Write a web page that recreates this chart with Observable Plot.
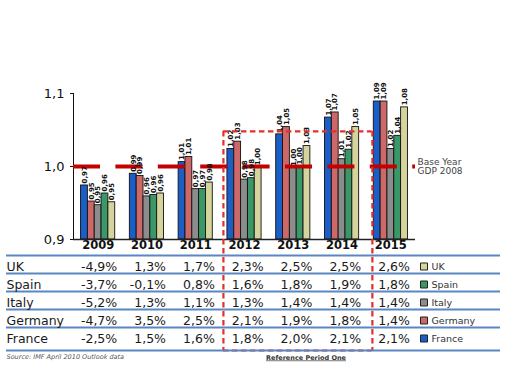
<!DOCTYPE html>
<html><head><meta charset="utf-8">
<script src="https://cdn.jsdelivr.net/npm/d3@7"></script>
<script src="https://cdn.jsdelivr.net/npm/@observablehq/plot@0.6"></script>
<style>
html,body{margin:0;padding:0;background:#fff;}
#wrap{position:relative;width:511px;height:381px;overflow:hidden;background:#fff;}
#wrap svg{position:absolute;left:0;top:0;}
</style></head><body><div id="wrap"></div>
<script>
// ---- data ----
const years = ["2009","2010","2011","2012","2013","2014","2015"];
const countries = ["France","Germany","Italy","Spain","UK"];
const colors = ["#1b5ec6","#cc6868","#8c8c8c","#3a9868","#d5d49c"];
const france  = [0.974,0.990,1.006,1.024,1.044,1.067,1.089];
const germany = [0.952,0.987,1.013,1.034,1.054,1.074,1.089];
const italy   = [0.947,0.959,0.969,0.982,0.998,1.010,1.024];
const spain   = [0.963,0.961,0.969,0.984,1.000,1.023,1.042];
const uk      = [0.951,0.963,0.978,0.999,1.028,1.054,1.081];
const gdpIndex = [france, germany, italy, spain, uk];

const tableRows = ["UK","Spain","Italy","Germany","France"];
const growthUK      = [-4.9, 1.3, 1.7, 2.3, 2.5, 2.5, 2.6];
const growthSpain   = [-3.7,-0.1, 0.8, 1.6, 1.8, 1.9, 1.8];
const growthItaly   = [-5.2, 1.3, 1.1, 1.3, 1.4, 1.4, 1.4];
const growthGermany = [-4.7, 3.5, 2.5, 2.1, 1.9, 1.8, 1.4];
const growthFrance  = [-2.5, 1.5, 1.6, 1.8, 2.0, 2.1, 2.1];
const growth = [growthUK, growthSpain, growthItaly, growthGermany, growthFrance];

const yTicks = [0.9, 1.0, 1.1];
const baseLevel = 1.0;
const baseLabel = "Base Year\nGDP 2008";
const refTop = 1.048;
const refStart = "2012", refEnd = "2014", refAfter = "2015";
const sourceNote = "Source: IMF April 2010 Outlook data";
const refLabel = "Reference Period One";

// ---- layout ----
const W = 511, H = 381;
const font = "DejaVu Sans";
const xRange = [73, 415];
const xOpts = () => ({type:"band", domain: years, range: xRange, paddingInner:0.3, paddingOuter:0.155, round:false, axis:null});
const xb = d3.scaleBand(years, xRange).paddingInner(0.3).paddingOuter(0.155);
const bw = xb.bandwidth();
const barW = bw / countries.length;
const yMin = yTicks[0];
const comma = (s) => s.replace(".", ",");
const fmt2 = v => comma(v.toFixed(2));
const fmtPct = v => comma(v.toFixed(1)) + "%";
const colorOf = c => colors[countries.indexOf(c)];
const refColor = "#e2302e";
const refDash = "5.5,3.5";

const marks = [];
countries.forEach((c, i) => {
  const data = years.map((year, j) => ({year, value: gdpIndex[i][j]}));
  marks.push(Plot.barY(data, {x:"year", y1: yMin, y2:"value", fill: colors[i], stroke:"#111", strokeWidth:0.9,
    insetLeft: i*barW, insetRight: (countries.length-1-i)*barW}));
});
marks.push(Plot.ruleY([yMin], {stroke:"#222", strokeWidth:1.6}));
marks.push(Plot.ruleY([baseLevel], {stroke:"#c40000", strokeWidth:4, strokeDasharray:"27,15.4"}));
countries.forEach((c, i) => {
  const data = years.map((year, j) => ({year, value: gdpIndex[i][j]}));
  marks.push(Plot.text(data, {x:"year", y:"value", text: d => fmt2(d.value), rotate:-90, textAnchor:"start",
    dx: (i - (countries.length-1)/2)*barW, dy:-2, fontSize:7, fontWeight:"bold", fill:"#111"}));
});
marks.push(Plot.text([baseLabel], {y: baseLevel, text: d => d, frameAnchor:"right", textAnchor:"start", dx:2, fontSize:9, lineHeight:1.05, fill:"#444"}));
marks.push(Plot.text(years, {x: d => d, frameAnchor:"bottom", dy:9, fontWeight:"bold", fontSize:11.5, fill:"#111"}));
// reference period box
const refRuleY = {x1: () => refStart, x2: () => refEnd, insetLeft:-4, insetRight:-13, stroke: refColor, strokeWidth:2.2, strokeDasharray: refDash};
marks.push(Plot.ruleY([refTop], refRuleY));
marks.push(Plot.ruleY([yMin], {...refRuleY, dy:111}));
marks.push(Plot.ruleX([refStart], {x: d => d, y1: refTop, y2: yMin, dx: -(bw/2 + 4), insetBottom:-111, stroke: refColor, strokeWidth:2.2, strokeDasharray: refDash}));
marks.push(Plot.ruleX([refAfter], {x: d => d, y1: refTop, y2: yMin, dx: -(bw/2 + 1.4), insetBottom:-111, stroke: refColor, strokeWidth:2.2, strokeDasharray: refDash}));

const chart = Plot.plot({
  width: W, height: H,
  marginTop: 93, marginBottom: 142, marginLeft: 73, marginRight: 96,
  x: xOpts(),
  y: {domain: [yTicks[0], yTicks[yTicks.length-1]], ticks: yTicks, tickFormat: d => comma(d.toFixed(1)), line: true, tickSize: 3, label: null},
  style: {fontFamily: font, fontSize: "13px", background: "transparent", color: "#111"},
  marks
});

const cells = tableRows.flatMap((c, i) => years.map((year, j) => ({country: c, year, value: growth[i][j]})));
const lineColor = "#5a86c3";
const table = Plot.plot({
  width: W, height: H,
  marginTop: 255, marginBottom: 36, marginLeft: 6, marginRight: 11,
  x: xOpts(),
  y: {type:"band", domain: tableRows, axis: null, paddingInner: 0, paddingOuter: 0},
  style: {fontFamily: font, fontSize: "12px", background: "transparent", color: "#111", pointerEvents: "none"},
  marks: [
    Plot.ruleY(tableRows, {y: d => d, dy: -9, stroke: lineColor, strokeWidth: 2}),
    Plot.ruleY([tableRows[tableRows.length-1]], {y: d => d, dy: 14, stroke: lineColor, strokeWidth: 2}),
    Plot.text(tableRows, {y: d => d, frameAnchor: "left", textAnchor: "start", dy: 2, fontSize: 12.5, fill: "#1a1a1a"}),
    Plot.text(cells, {x: "year", y: "country", text: d => fmtPct(d.value), textAnchor: "end", dx: bw/2 + 2, dy: 2, fontSize: 12.5, fill: "#1a1a1a"}),
    Plot.dot(tableRows, {y: d => d, frameAnchor: "right", dx: -76.5, dy: 2, symbol: "square", r: 3.95, fill: d => colorOf(d), stroke: "#222", strokeWidth: 1}),
    Plot.text(tableRows, {y: d => d, frameAnchor: "right", dx: -69, dy: 2, textAnchor: "start", fontSize: 9.5, fill: "#333"}),
    Plot.text([sourceNote], {frameAnchor: "bottom-left", dy: 13, textAnchor: "start", fontSize: 6.5, fontStyle: "italic", fill: "#555"}),
    Plot.text([refLabel], {x: () => "2013", frameAnchor: "bottom", dx: 12.7, dy: 14, fontSize: 6.5, fontWeight: "bold", fill: "#333"})
  ]
});

const wrap = document.getElementById("wrap");
wrap.appendChild(chart);
wrap.appendChild(table);
table.querySelectorAll("text").forEach(t => { if (t.textContent === refLabel) t.style.textDecoration = "underline"; });
</script></body></html>
